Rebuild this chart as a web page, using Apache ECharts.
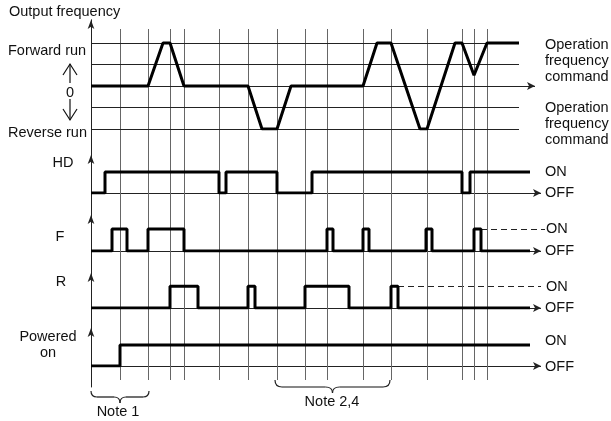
<!DOCTYPE html>
<html>
<head>
<meta charset="utf-8">
<script src="https://cdn.jsdelivr.net/npm/echarts@6/dist/echarts.min.js"></script>
<style>
  html, body { margin: 0; padding: 0; background: #fff; }
  #main { width: 611px; height: 421px; }
</style>
</head>
<body>
<div id="main"></div>
<script>
// time positions of the vertical reference lines
var gridTimes = [29, 57, 79, 93, 128, 157, 186, 214, 236, 272, 300, 336, 371, 383, 396];

// output frequency: horizontal reference levels and waveform [time, level]
var freqLevels = [-2, -1, 1, 2];
var freqWave = [[0, 0], [57, 0], [72, 2], [79, 2], [93, 0], [157, 0], [171, -2], [186, -2], [200, 0],
  [272, 0], [286, 2], [300, 2], [329, -2], [336, -2], [364, 2], [371, 2], [383, 0.5], [396, 2], [428, 2]];
var freqEnd = 428;
var zeroArrowEnd = 444;

// digital signals as [time, state] change points (0 = OFF, 1 = ON)
var hdSteps = [[0, 0], [14, 1], [128, 0], [135, 1], [186, 0], [221, 1], [371, 0], [379, 1], [439, 1]];
var fSteps = [[0, 0], [21, 1], [36, 0], [57, 1], [93, 0], [236, 1], [242, 0], [272, 1], [278, 0],
  [335, 1], [341, 0], [383, 1], [390, 0], [439, 0]];
var rSteps = [[0, 0], [79, 1], [107, 0], [157, 1], [164, 0], [214, 1], [258, 0], [300, 1], [307, 0], [439, 0]];
var powerSteps = [[0, 0], [29, 1], [439, 1]];

// dashed continuation of ON level
var fDash = [390, 454];
var rDash = [307, 450];
var baseEnd = 450;

var FONT = 'Liberation Sans, Arial, sans-serif';
var FS = 14.5;

var chart = echarts.init(document.getElementById('main'));

var grids = [
  { left: 91, right: 60, top: 29, bottom: 41 },   // vertical lines
  { left: 91, right: 60, top: 20, bottom: 34 },   // main axis line
  { left: 91, right: 60, top: 20, bottom: 292 },  // frequency
  { left: 91, right: 60, top: 155, bottom: 228 }, // HD
  { left: 91, right: 60, top: 215, bottom: 170 }, // F
  { left: 91, right: 60, top: 273, bottom: 113 }, // R
  { left: 91, right: 60, top: 328, bottom: 55 }   // powered on
];
var yRanges = [[0, 1], [0, 1], [-2, 3.07], [0, 1.81], [0, 1.64], [0, 1.6], [0, 1.81]];

var xAxes = grids.map(function (g, i) {
  return { type: 'value', gridIndex: i, min: 0, max: 460, show: false };
});
var yAxes = yRanges.map(function (r, i) {
  var showLine = i >= 1;
  return {
    type: 'value', gridIndex: i, min: r[0], max: r[1],
    show: showLine,
    axisLine: {
      show: showLine, onZero: false,
      symbol: i >= 2 ? ['none', 'arrow'] : 'none',
      symbolSize: [5, 9],
      lineStyle: { color: '#222', width: 1 }
    },
    axisTick: { show: false }, axisLabel: { show: false }, splitLine: { show: false }
  };
});

function hLine(t0, t1, y, arrow) {
  return [
    { coord: [t0, y], symbol: 'none' },
    { coord: [t1, y], symbol: arrow ? 'arrow' : 'none', symbolSize: [6, 8] }
  ];
}

var thinStyle = { color: '#222', width: 1, type: 'solid' };
var markBase = { silent: true, animation: false, label: { show: false }, symbol: 'none' };

function stepSeries(idx, data, dash) {
  var marks = [hLine(0, baseEnd, 0, true)];
  if (dash) {
    marks.push([{ coord: [dash[0], 1], lineStyle: { type: [6, 4], color: '#222', width: 1 } }, { coord: [dash[1], 1] }]);
  }
  return {
    type: 'line', xAxisIndex: idx, yAxisIndex: idx, data: data, step: 'end',
    symbol: 'none', z: 5,
    lineStyle: { color: '#000', width: 3 },
    markLine: Object.assign({}, markBase, { lineStyle: thinStyle, data: marks, z: 3 })
  };
}

var freqMarks = freqLevels.map(function (l) { return hLine(0, freqEnd, l, false); });
freqMarks.push(hLine(0, zeroArrowEnd, 0, true));

var series = [
  {
    type: 'line', xAxisIndex: 0, yAxisIndex: 0, data: [[0, 0]], symbol: 'none',
    lineStyle: { opacity: 0 },
    markLine: Object.assign({}, markBase, {
      lineStyle: { color: '#666', width: 1, type: 'solid' },
      data: gridTimes.map(function (t) { return { xAxis: t }; })
    })
  },
  {
    type: 'line', xAxisIndex: 2, yAxisIndex: 2, data: freqWave, symbol: 'none', z: 5,
    lineStyle: { color: '#000', width: 3 },
    markLine: Object.assign({}, markBase, { lineStyle: thinStyle, data: freqMarks })
  },
  stepSeries(3, hdSteps),
  stepSeries(4, fSteps, fDash),
  stepSeries(5, rSteps, rDash),
  stepSeries(6, powerSteps)
];

function txt(x, y, s, align) {
  return {
    type: 'text', x: x, y: y, z: 10,
    style: { text: s, fontSize: FS, fontFamily: FONT, fill: '#111', align: align || 'left', verticalAlign: 'middle', lineHeight: 16 }
  };
}
function seg(x1, y1, x2, y2) {
  return { type: 'line', shape: { x1: x1, y1: y1, x2: x2, y2: y2 }, style: { stroke: '#111', lineWidth: 1.2 } };
}
function curve(x1, y1, cx, cy, x2, y2) {
  return { type: 'bezierCurve', shape: { x1: x1, y1: y1, cpx1: cx, cpy1: cy, x2: x2, y2: y2 }, style: { stroke: '#222', lineWidth: 1.2, fill: null } };
}
function brace(x1, x2, yTop, yMid, yTip) {
  var r = yMid - yTop, cx = (x1 + x2) / 2;
  return [
    curve(x1, yTop, x1, yMid, x1 + r, yMid),
    seg(x1 + r, yMid, cx - r, yMid),
    curve(cx - r, yMid, cx, yMid, cx, yTip),
    curve(cx, yTip, cx, yMid, cx + r, yMid),
    seg(cx + r, yMid, x2 - r, yMid),
    curve(x2 - r, yMid, x2, yMid, x2, yTop)
  ];
}

var graphics = [
  txt(9, 12, 'Output frequency'),
  txt(8, 51, 'Forward run'),
  txt(70, 93, '0', 'center'),
  txt(8, 133, 'Reverse run'),
  seg(70, 64, 70, 83),
  { type: 'polyline', shape: { points: [[63, 75], [70, 64], [77, 75]] }, style: { stroke: '#111', lineWidth: 1.2, fill: null } },
  seg(70, 99, 70, 120),
  { type: 'polyline', shape: { points: [[63, 109], [70, 120], [77, 109]] }, style: { stroke: '#111', lineWidth: 1.2, fill: null } },
  txt(545, 61, 'Operation\nfrequency\ncommand'),
  txt(545, 124, 'Operation\nfrequency\ncommand'),
  txt(63, 163, 'HD', 'center'),
  txt(60, 237, 'F', 'center'),
  txt(61, 282, 'R', 'center'),
  txt(48, 345, 'Powered\non', 'center'),
  txt(545, 172, 'ON'), txt(545, 193, 'OFF'),
  txt(546, 229, 'ON'), txt(545, 251, 'OFF'),
  txt(546, 287, 'ON'), txt(545, 308, 'OFF'),
  txt(545, 341, 'ON'), txt(545, 367, 'OFF'),
  txt(118, 412, 'Note 1', 'center'),
  txt(332, 402, 'Note 2,4', 'center')
].concat(brace(91, 149, 391, 397, 403)).concat(brace(275, 390, 380, 387, 393));

chart.setOption({
  animation: false,
  backgroundColor: '#fff',
  grid: grids,
  xAxis: xAxes,
  yAxis: yAxes,
  series: series,
  graphic: { elements: graphics }
});
</script>
</body>
</html>
